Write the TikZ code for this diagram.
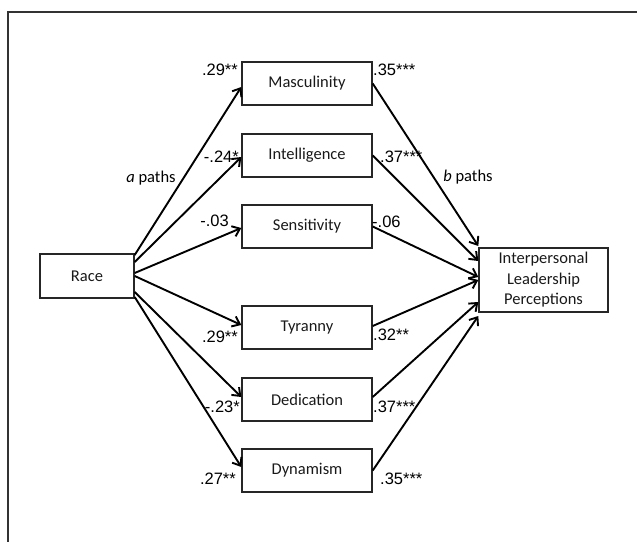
\documentclass[tikz,border=0pt]{standalone}
\usepackage{fontspec}
\setmainfont{Carlito}
\newfontfamily\numfont{Liberation Sans}
\usetikzlibrary{arrows.meta,calc}
\begin{document}
\begin{tikzpicture}[x=1pt,y=-1pt,
  box/.style={draw=black!85,line width=1.4pt,minimum width=130pt,minimum height=43pt,inner sep=0pt,font=\fontsize{16.5}{20.5}\selectfont,text=black!90},
  coef/.style={font=\numfont\fontsize{16.5}{20}\selectfont,inner sep=0pt,text=black},
  lbl/.style={font=\fontsize{16.5}{20}\selectfont,inner sep=0pt,text=black},
  pth/.style={line width=1.9pt,black,-{Straight Barb[length=7pt,width=11pt,line width=1.9pt]}},
]
\useasboundingbox (0,0) rectangle (637,541);
\draw[line width=1.5pt,black!80] (8,545) -- (8,12) -- (641,12);

\node[box,minimum width=94pt,minimum height=44pt] (race) at (87,276) {Race};
\node[box] (masc) at (307,83.5) {Masculinity};
\node[box] (intl) at (307,155.5) {Intelligence};
\node[box] (sens) at (307,226.5) {Sensitivity};
\node[box] (tyr) at (307,327.5) {Tyranny};
\node[box] (ded) at (307,399.5) {Dedication};
\node[box] (dyn) at (307,470.5) {Dynamism};
\node[box,minimum width=129pt,minimum height=64pt,align=center] (ilp) at (543.5,280) {Interpersonal\\Leadership\\Perceptions};

% a paths
\draw[pth] ($(race.east)+(0,-21)$) -- ($(masc.west)+(0,3.5)$);
\draw[pth] ($(race.east)+(0,-14)$) -- ($(intl.west)+(0,1.5)$);
\draw[pth] ($(race.east)+(0,-3)$) -- ($(sens.west)+(0,1.5)$);
\draw[pth] ($(race.east)+(0,0)$) -- ($(tyr.west)+(0,-2.5)$);
\draw[pth] ($(race.east)+(0,16)$) -- ($(ded.west)+(0,-2.5)$);
\draw[pth] ($(race.east)+(0,21)$) -- ($(dyn.west)+(0,-3.5)$);

% b paths
\draw[pth] (masc.east) -- ($(ilp.west)+(0,-34)$);
\draw[pth] (intl.east) -- ($(ilp.west)+(0,-19)$);
\draw[pth] (sens.east) -- ($(ilp.west)+(0,-3)$);
\draw[pth] ($(tyr.east)+(0,-1.5)$) -- ($(ilp.west)+(0,0)$);
\draw[pth] ($(ded.east)+(0,-2.5)$) -- ($(ilp.west)+(0,22)$);
\draw[pth] (dyn.east) -- ($(ilp.west)+(0,36)$);

% coefficients
\node[coef,anchor=east] (c1) at (238,70) {.29**};
\node[coef,anchor=west] (d1) at (373,70) {.35***};
\node[coef,anchor=east] (c2) at (239,157) {-.24*};
\node[coef,anchor=west] (d2) at (380,157) {.37***};
\node[coef,anchor=east] (c3) at (229,221) {-.03};
\node[coef,anchor=west] (d3) at (372,222) {-.06};
\node[coef,anchor=east] (c4) at (238,337) {.29**};
\node[coef,anchor=west] (d4) at (373,335) {.32**};
\node[coef,anchor=east] (c5) at (240,407) {-.23*};
\node[coef,anchor=west] (d5) at (373,407) {.37***};
\node[coef,anchor=east] (c6) at (236,479) {.27**};
\node[coef,anchor=west] (d6) at (380,479) {.35***};

\node[lbl] (ap) at (151,178) {\textit{a} paths};
\node[lbl] (bp) at (468,177) {\textit{b} paths};
\end{tikzpicture}
\end{document}
